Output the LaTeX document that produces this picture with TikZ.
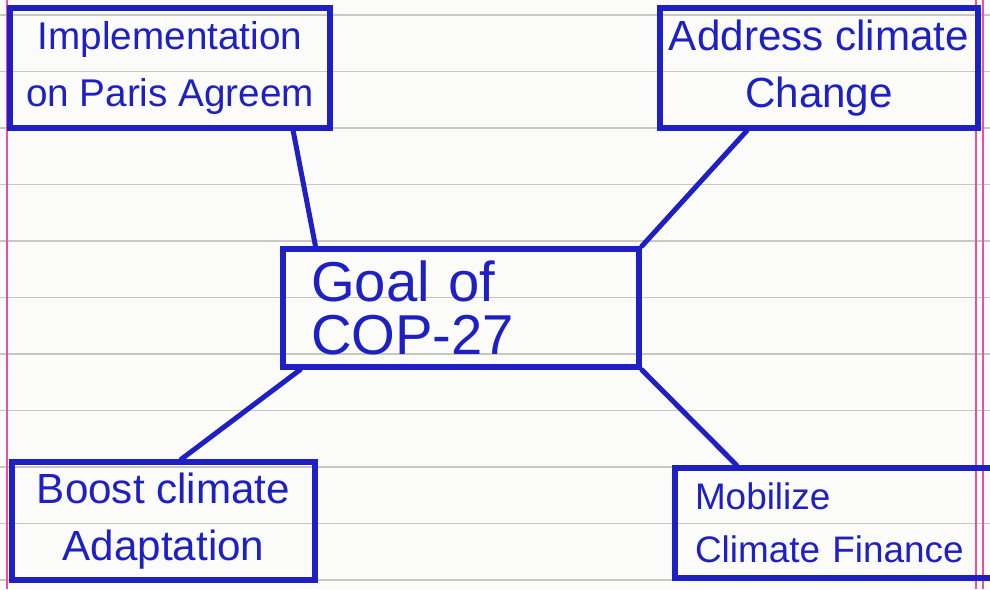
\documentclass[tikz,border=0pt]{standalone}
\usepackage{fontspec}
\setmainfont{Liberation Sans}
\usetikzlibrary{positioning}
\definecolor{ink}{RGB}{30,32,196}
\definecolor{rule}{RGB}{200,200,190}
\definecolor{margin}{RGB}{232,80,165}
\definecolor{paper}{RGB}{251,251,249}

\tikzset{
  box/.style={draw=ink,line width=1.1mm,text=ink,inner sep=0pt},
  topic/.style={box,align=center,font=\fontsize{24}{32}\selectfont},
  link/.style={draw=ink,line width=1mm,line cap=round}
}

\begin{document}
\begin{tikzpicture}[x=0.2mm,y=-0.2mm]
  \useasboundingbox (0,0) rectangle (990,589);
  \fill[paper] (0,0) rectangle (990,589);
  \foreach \y in {15,71.5,...,590}
    \draw[rule,line width=0.3mm] (0,\y) -- (990,\y);
  \draw[margin,line width=0.3mm] (7,0) -- (7,589);
  \draw[margin,line width=0.3mm] (976,0) -- (976,589);
  \draw[margin,line width=0.3mm] (983,0) -- (983,589);

  \node[topic,minimum width=64mm,minimum height=24mm,
    font=\fontsize{22}{32}\selectfont] (impl) at (170,68)
    {Implementation\\on Paris Agreem};
  \node[topic,minimum width=63.6mm,minimum height=24mm] (address) at (819,68)
    {Address climate\\Change};
  \node[box,align=left,text width=60mm,inner xsep=5.6mm,minimum height=23.6mm,
    font=\fontsize{32}{30}\selectfont] (goal) at (461,308) {Goal of\\COP-27};
  \node[topic,minimum width=60.6mm,minimum height=23.6mm] (boost) at (163.5,521)
    {Boost climate\\Adaptation};
  \node[topic,align=left,text width=62mm,inner xsep=4mm,minimum height=22mm,
    font=\fontsize{21}{30}\selectfont] (mobilize) at (850,523)
    {Mobilize\\Climate Finance};

  % connect the goal with the four aims
  \path (impl.-27) edge[link] (goal.157);
  \path (address.-139) edge[link] (goal.north east);
  \path (goal.-159) edge[link] (boost.74);
  \path (goal.south east) edge[link] (mobilize.153);
\end{tikzpicture}
\end{document}
